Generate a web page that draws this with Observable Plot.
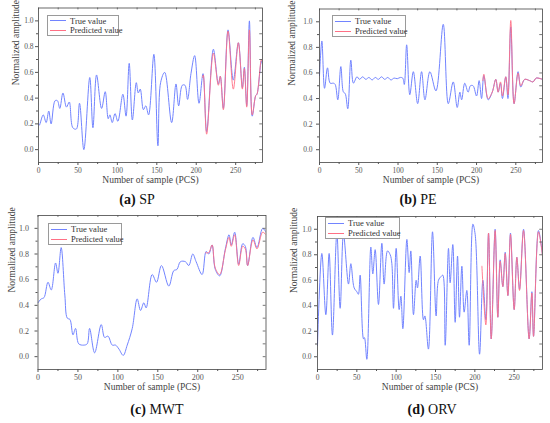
<!DOCTYPE html>
<html>
<head>
<meta charset="utf-8">
<script src="https://cdn.jsdelivr.net/npm/d3@7"></script>
<script src="https://cdn.jsdelivr.net/npm/@observablehq/plot@0.6"></script>
<style>
  body { margin: 0; background: #fff; }
  #root { position: relative; width: 550px; height: 423px; font-family: "Liberation Serif", serif; overflow: hidden; }
  #root svg, #root svg text { font-family: "Liberation Serif", serif !important; }
  .panel { position: absolute; }
  .cap { position: absolute; font-size: 14px; color: #111; white-space: nowrap; transform: translate(-50%, -50%); }
  .leg { position: absolute; border: 1px solid #9a9a9a; background: #fff; box-sizing: border-box; font-size: 8.5px; color: #333; }
  .leg .row { position: absolute; left: 2px; display: flex; align-items: center; white-space: nowrap; }
  .leg .sw { display: inline-block; width: 16px; height: 0; margin-right: 4px; }
</style>
</head>
<body>
<div id="root"></div>
<script>
// ---------- data ----------
const seriesNames = ["True value", "Predicted value"];
const panelTags = ["(a)", "(b)", "(c)", "(d)"];
const panelNames = ["SP", "PE", "MWT", "ORV"];
const xTitle = "Number of sample (PCS)";
const yTitle = "Normalized amplitude";
const xMajor = [0, 50, 100, 150, 200, 250];
const xMinor = [25, 75, 125, 175, 225, 275];
const yMajor = [0, 0.2, 0.4, 0.6, 0.8, 1.0];
const yMinor = [0.1, 0.3, 0.5, 0.7, 0.9];

// (a) SP
const spTrue = [[0,0.2],[1,0.19],[6,0.27],[9.7,0.21],[13,0.30],[16,0.2],[21,0.38],[24,0.38],[27,0.32],[31,0.44],[35.5,0.33],[39,0.37],[43.5,0.17],[48,0.16],[52,0.36],[57.5,0.0],[65,0.56],[69,0.17],[73.6,0.58],[80,0.32],[84.6,0.45],[88.4,0.24],[90.5,0.27],[93.5,0.21],[97,0.28],[100.6,0.22],[107,0.43],[111,0.26],[115,0.67],[119,0.23],[124,0.52],[126.5,0.44],[129,0.47],[133,0.31],[136,0.34],[139.6,0.27],[146.3,0.74],[151.4,0.03],[154.8,0.52],[160,0.6],[168.8,0.21],[174.3,0.51],[177.7,0.34],[182.3,0.5],[185.7,0.5],[189,0.39],[193.3,0.59],[198,0.73],[203.5,0.36],[208.6,0.59],[213.2,0.14],[221.7,0.78],[228,0.51],[230.5,0.57],[234.4,0.32],[240.3,0.93],[247,0.54],[253.4,0.83],[258.5,0.48],[261,0.64],[264,0.34],[267.4,1.0],[271,0.26],[275.4,0.42],[277,0.43],[282.6,0.69],[284,0.66]];
const spPred = [[208,0.56],[209,0.58],[213.2,0.12],[221.7,0.75],[228,0.50],[230.5,0.57],[234.4,0.31],[240.3,0.92],[247,0.47],[253.4,0.83],[258.5,0.47],[261,0.63],[264,0.33],[267.4,0.93],[271,0.27],[275.4,0.42],[277,0.43],[282.6,0.70],[284,0.68]];

// (b) PE
const peTrue = [[0,0.58],[3,0.85],[6.4,0.48],[10.2,0.64],[13.6,0.52],[17.8,0.52],[20,0.51],[23.3,0.39],[27.2,0.65],[30.5,0.45],[32.7,0.44],[36,0.32],[39.9,0.70],[43.2,0.52],[47.7,0.57],[51,0.55],[55,0.57],[59,0.55],[63,0.565],[67,0.545],[71,0.565],[75,0.55],[79,0.57],[83,0.55],[87,0.565],[91,0.545],[95,0.56],[99,0.555],[103,0.565],[106,0.56],[108,0.51],[111,0.82],[115,0.43],[119.5,0.61],[125,0.36],[130,0.61],[134.3,0.39],[140.6,0.61],[148.3,0.46],[157.6,0.98],[164,0.36],[170.3,0.53],[175.4,0.33],[178.8,0.45],[181,0.39],[185,0.52],[189.3,0.45],[192.2,0.50],[195.6,0.50],[200,0.42],[203.3,0.54],[206.4,0.40],[209.3,0.58],[214.8,0.39],[220,0.45],[224.5,0.55],[227.5,0.45],[230.5,0.52],[233,0.40],[237.2,0.57],[240,0.40],[243.6,0.96],[247.8,0.36],[252.9,0.61],[256.3,0.49],[261.3,0.55],[267.6,0.54],[271.9,0.53],[276,0.56],[284,0.55]];
const pePred = [[208,0.54],[209.3,0.59],[214.8,0.40],[220,0.45],[224.5,0.55],[227.5,0.45],[230.5,0.53],[233,0.42],[237.2,0.57],[240,0.43],[243.6,1.01],[247.8,0.36],[252.9,0.60],[256.3,0.50],[261.3,0.55],[267.6,0.54],[271.9,0.53],[276,0.56],[284,0.55]];

// (c) MWT
const mwtTrue = [[0,0.42],[4,0.45],[7.5,0.46],[12.5,0.58],[16.6,0.52],[22,0.73],[25,0.65],[29,0.85],[33.6,0.48],[36.7,0.30],[40,0.29],[43.8,0.17],[47,0.22],[51,0.10],[57.4,0.09],[61.6,0.10],[64.6,0.22],[70.9,0.03],[79.2,0.25],[83.4,0.15],[87.6,0.16],[93,0.09],[97.1,0.09],[101.3,0.06],[106.7,0.01],[111.7,0.09],[118,0.22],[124.2,0.45],[128.4,0.36],[132.5,0.42],[135.4,0.38],[143,0.64],[148.4,0.58],[154.6,0.71],[163.8,0.55],[170,0.67],[174,0.68],[178.3,0.74],[184.6,0.74],[188.8,0.71],[193.8,0.80],[198,0.74],[205.5,0.64],[210.5,0.82],[213.8,0.80],[218,0.87],[222,0.68],[227.5,0.63],[234.6,0.84],[239.2,0.95],[242,0.87],[246.3,0.97],[251.3,0.72],[256.3,0.88],[259.6,0.86],[262.5,0.71],[269.2,0.93],[274.2,0.85],[281.3,1.0],[285.5,0.97]];
const mwtPred = [[210,0.81],[213.8,0.81],[218,0.87],[222,0.69],[227.5,0.64],[234.6,0.83],[239.2,0.93],[242,0.86],[246.3,0.95],[251.3,0.71],[256.3,0.86],[259.6,0.84],[262.5,0.71],[269.2,0.91],[274.2,0.84],[281.3,0.97],[285.5,0.95]];

// (d) ORV
const orvTrue = [[0,0.09],[5.5,0.81],[10.6,0.33],[14.8,0.81],[19,0.17],[24.6,0.97],[28.8,0.38],[33,0.96],[39.4,0.57],[42.4,0.73],[46.6,0.54],[50,0.51],[52,0.49],[54.2,0.64],[58.5,0.14],[59.7,0.15],[62.7,-0.02],[67.8,0.86],[70.3,0.65],[73.3,0.84],[77.5,0.41],[81.8,0.89],[84.7,0.57],[89,0.83],[92.4,0.80],[94.5,0.73],[96.6,0.38],[100,0.85],[103.8,0.37],[106,0.475],[108.5,0.22],[113.6,0.92],[116.5,0.66],[118.6,0.83],[122,0.33],[125.4,0.60],[127.1,0.54],[130.5,0.79],[134.7,0.29],[136.5,0.32],[141,0.06],[146.2,0.98],[150.8,0.32],[153.8,0.60],[157.2,0.63],[159.3,0.64],[162.3,0.09],[166.5,0.85],[168.6,0.58],[172,0.88],[175,0.27],[178,0.79],[180.5,0.31],[183.5,0.71],[186.4,0.35],[189.8,0.52],[192.8,0.09],[197.5,1.04],[200.4,0.96],[206,0.02],[210.2,0.60],[214,0.29],[217.4,0.97],[220.8,0.14],[225.8,1.0],[229.2,0.31],[232.2,0.76],[235.6,0.55],[238.6,0.82],[242,0.48],[245.3,0.97],[250,0.37],[253.4,0.78],[256.8,0.53],[261.9,1.0],[269,0.14],[272.5,0.51],[274.6,0.16],[280.9,0.99],[286,0.8]];
const orvPred = [[209,0.71],[214,0.25],[217.4,0.97],[220.8,0.14],[225.8,0.99],[229.2,0.31],[232.2,0.75],[235.6,0.55],[238.6,0.81],[242,0.48],[245.3,0.96],[250,0.37],[253.4,0.78],[256.8,0.52],[261.9,0.99],[269,0.14],[272.5,0.5],[274.6,0.16],[280.9,0.98],[286,0.79]];

// ---------- style / layout ----------
const FONT = '"Liberation Serif", serif';
const colors = ["#7284ff", "#ff7085"];
const panels = [
  {tru: spTrue, pred: spPred, left: 0, top: 0, h: 192, ml: 38, mr: 13, mt: 7.5, mb: 30, xmax: 284, ytx: -23, pad: 2, fs: 7.5,
   lx: 47, ly: 15, lw: 72, lh: 21, cx: 137, cy: 200},
  {tru: peTrue, pred: pePred, left: 275, top: 0, h: 192, ml: 44, mr: 8, mt: 8.5, mb: 30, xmax: 284, ytx: -28, pad: 4, fs: 7.5,
   lx: 332, ly: 15, lw: 74, lh: 22, cx: 418, cy: 200},
  {tru: mwtTrue, pred: mwtPred, left: 0, top: 210, h: 190, ml: 37.5, mr: 9.5, mt: 5, mb: 31, xmax: 285.5, ytx: -26.5, pad: 6, fs: 8,
   lx: 48, ly: 223, lw: 74, lh: 22, cx: 157, cy: 410},
  {tru: orvTrue, pred: orvPred, left: 275, top: 210, h: 190, ml: 42, mr: 8, mt: 6, mb: 31, xmax: 286, ytx: -23.5, pad: 3, fs: 7.5,
   lx: 325, ly: 217, lw: 75, lh: 22, cx: 432, cy: 410}
];

const root = document.getElementById("root");
const rows = (arr) => arr.map(([x, y]) => ({x, y}));

panels.forEach((P, i) => {
  const chart = Plot.plot({
    width: 275, height: P.h,
    marginLeft: P.ml, marginRight: P.mr, marginTop: P.mt, marginBottom: P.mb,
    style: {fontFamily: FONT, background: "transparent", overflow: "visible"},
    x: {domain: [0, P.xmax], axis: null},
    y: {domain: [-0.1, 1.1], axis: null},
    marks: [
      Plot.line(rows(P.tru), {x: "x", y: "y", stroke: colors[0], strokeWidth: 1, curve: "catmull-rom", clip: true}),
      Plot.line(rows(P.pred), {x: "x", y: "y", stroke: colors[1], strokeWidth: 1, strokeOpacity: 0.9, curve: "catmull-rom", clip: true}),
      Plot.frame({stroke: "#444", strokeWidth: 0.8}),
      Plot.axisX(xMajor, {anchor: "bottom", tickSize: 3, tickPadding: 2, fontSize: P.fs, fontFamily: FONT, color: "#555", label: null}),
      Plot.axisX(xMinor, {anchor: "bottom", tickSize: 2, tickFormat: () => "", color: "#555", label: null}),
      Plot.axisY(yMajor, {anchor: "left", tickSize: 3, tickPadding: P.pad, fontSize: P.fs, fontFamily: FONT, tickFormat: d3.format(".1f"), color: "#555", label: null}),
      Plot.axisY(yMinor, {anchor: "left", tickSize: 2, tickFormat: () => "", color: "#555", label: null}),
      Plot.ruleX(xMajor.concat(xMinor), {x: d => d, y1: 1.1, y2: 1.085, stroke: "#555", strokeWidth: 0.8}),
      Plot.ruleY(yMajor.concat(yMinor), {y: d => d, x1: P.xmax, x2: P.xmax - 3.5, stroke: "#555", strokeWidth: 0.8}),
      Plot.text([xTitle], {frameAnchor: "bottom", dy: 20, fontSize: 9.5, fontFamily: FONT, fill: "#444"}),
      Plot.text([yTitle], {frameAnchor: "left", dx: P.ytx, rotate: -90, fontSize: 9.5, fontFamily: FONT, fill: "#444"})
    ]
  });
  chart.setAttribute("font-family", FONT);
  chart.querySelectorAll("g, text").forEach(el => {
    if (el.hasAttribute("font-family")) el.setAttribute("font-family", FONT);
    if (el.tagName.toLowerCase() === "text") el.style.fontFamily = FONT;
  });
  const wrap = document.createElement("div");
  wrap.className = "panel";
  wrap.style.left = P.left + "px";
  wrap.style.top = P.top + "px";
  wrap.appendChild(chart);
  root.appendChild(wrap);

  // legend
  const leg = document.createElement("div");
  leg.className = "leg";
  leg.style.cssText += `left:${P.lx}px;top:${P.ly}px;width:${P.lw}px;height:${P.lh}px;`;
  const rh = (P.lh - 2) / 2;
  seriesNames.forEach((name, k) => {
    const r = document.createElement("div");
    r.className = "row";
    r.style.top = (k * rh) + "px";
    r.style.height = rh + "px";
    r.innerHTML = `<span class="sw" style="border-top:1.5px solid ${colors[k]}"></span><span>${name}</span>`;
    leg.appendChild(r);
  });
  root.appendChild(leg);

  // caption
  const cap = document.createElement("div");
  cap.className = "cap";
  cap.style.left = P.cx + "px";
  cap.style.top = P.cy + "px";
  cap.innerHTML = `<b>${panelTags[i]}</b> ${panelNames[i]}`;
  root.appendChild(cap);
});
</script>
</body>
</html>
